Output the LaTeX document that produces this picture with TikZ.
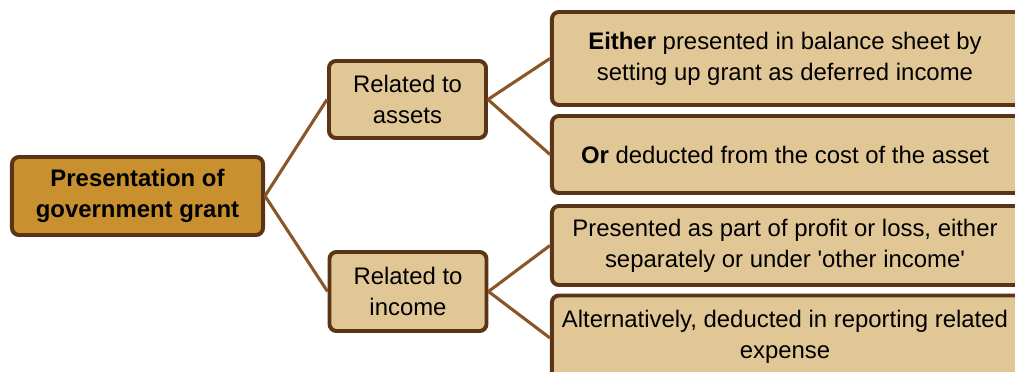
\documentclass[tikz,border=0pt]{standalone}
\usepackage{fontspec}
\setmainfont{Liberation Sans}[Ligatures=TeXOff]
\usetikzlibrary{positioning}
\definecolor{rootfill}{HTML}{C8902F}
\definecolor{boxfill}{HTML}{E1C796}
\definecolor{boxline}{HTML}{5A3416}
\definecolor{linkline}{HTML}{8A5527}
\tikzset{
  box/.style={draw=boxline, line width=2.8pt, rounded corners=5pt, fill=boxfill, align=center, inner sep=1pt, font=\fontsize{17}{22}\selectfont},
  rootbox/.style={box, fill=rootfill, font=\fontsize{17}{22}\selectfont\bfseries},
  widebox/.style={box, minimum width=12.275cm},
  boxtext/.style={align=center, inner sep=1pt, font=\fontsize{17}{22}\selectfont},
  link/.style={draw=linkline, line width=2.2pt}
}

\begin{document}
\begin{tikzpicture}[x=0.025cm, y=-0.025cm]
                \useasboundingbox (0,0) rectangle (1015,372);
                \clip (0,0) rectangle (1015,372);

                \node[rootbox, minimum width=6.275cm, minimum height=1.95cm] (root) at (137.5, 196) {Presentation of\\government grant};
                \node[box, minimum width=3.925cm, minimum height=1.925cm] (assets) at (407.5, 99.5) {Related to\\assets};
                \node[box, minimum width=3.925cm, minimum height=1.975cm] (income) at (408, 291.5) {Related to\\income};

                % boxes on the right run past the edge
                \node[widebox, minimum height=2.325cm] (either) at (797.5, 58.5) {};
                \node[widebox, minimum height=1.925cm] (or) at (797.5, 154.5) {};
                \node[widebox, minimum height=1.975cm] (profit) at (797.5, 245.5) {};
                \node[widebox, minimum height=2.125cm] (expense) at (797.5, 338) {};

                \node[boxtext] (eitherText) at (785, 58.5) {\textbf{Either} presented in balance sheet by\\setting up grant as deferred income};
                \node[boxtext] (orText) at (785, 154.5) {\textbf{Or} deducted from the cost of the asset};
                \node[boxtext] (profitText) at (785, 245.5) {Presented as part of profit or loss, either\\separately or under 'other income'};
                \node[boxtext] (expenseText) at (785, 337) {Alternatively, deducted in reporting related\\expense};

                \draw[link] (root.east) -- (assets.west);
                \draw[link] (root.east) -- (income.west);
                \draw[link] (assets.east) -- (either.west);
                \draw[link] (assets.east) -- (or.west);
                \draw[link] (income.east) -- (profit.west);
                \draw[link] (income.east) -- (expense.west);
            \end{tikzpicture}
\end{document}
